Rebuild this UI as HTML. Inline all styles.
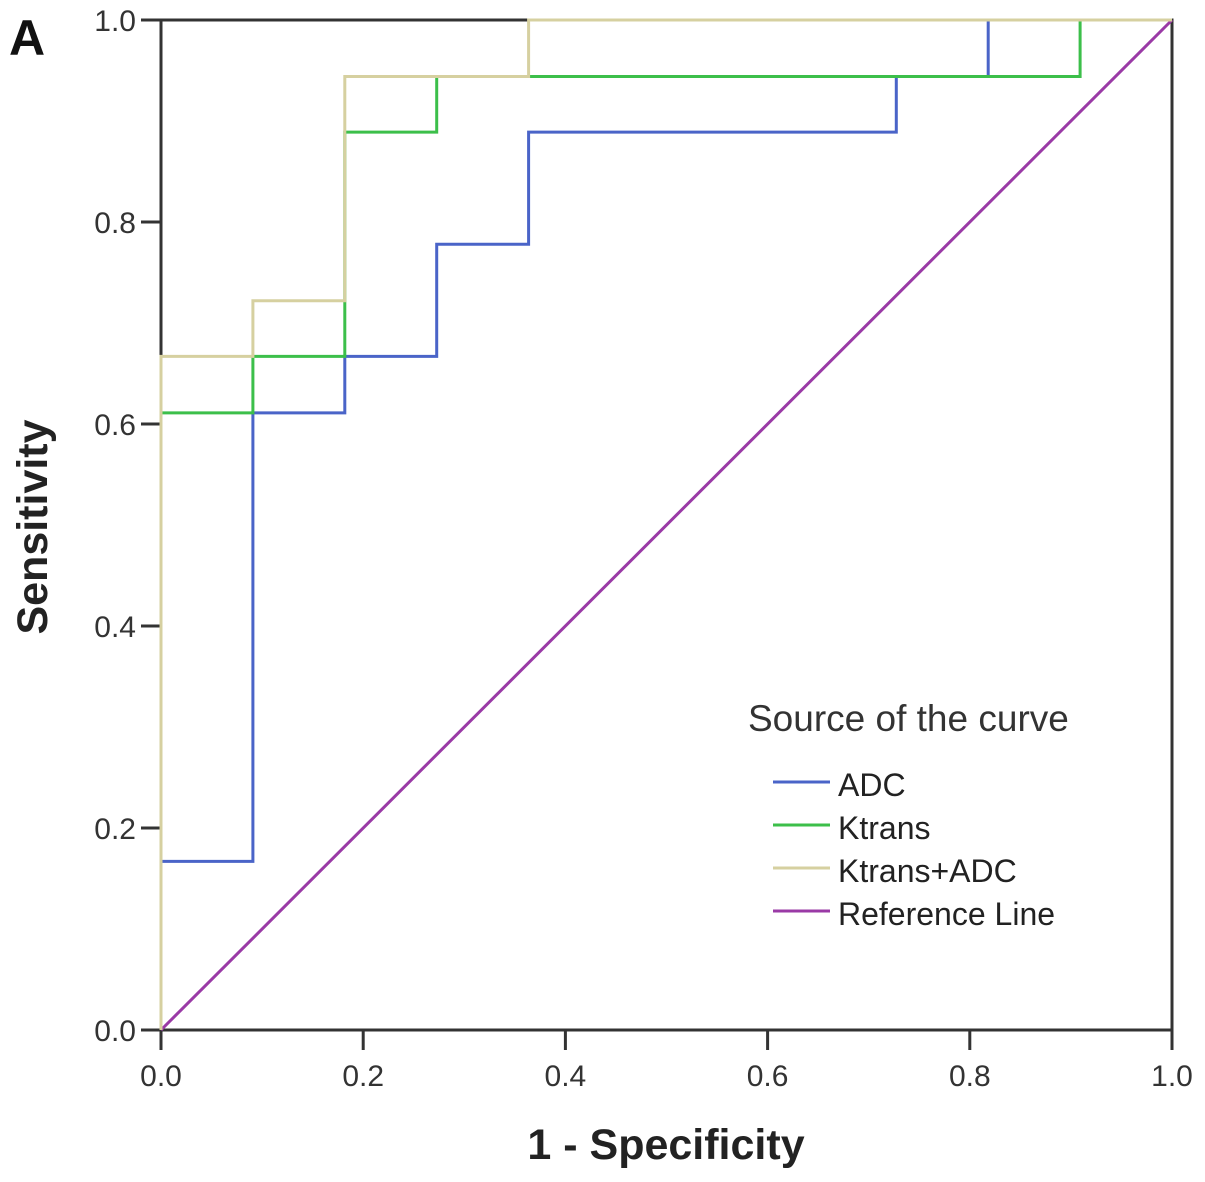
<!DOCTYPE html>
<html><head><meta charset="utf-8"><style>
body{margin:0;background:#fff;}
svg{display:block;font-family:"Liberation Sans",Arial,sans-serif;}
</style></head><body>
<svg id="chart" width="1205" height="1182" viewBox="0 0 1205 1182">
<text x="9" y="55" font-size="50" font-weight="bold" fill="#111">A</text>
<g id="plot"></g>
<text x="666" y="1159" text-anchor="middle" font-size="43" font-weight="bold" fill="#222">1 - Specificity</text>
<text transform="translate(47,527) rotate(-90)" text-anchor="middle" font-size="43" font-weight="bold" fill="#222">Sensitivity</text>
<g>
<text x="748" y="731" font-size="37" fill="#333">Source of the curve</text>
<line x1="773" y1="782" x2="830" y2="782" stroke="#4a64c8" stroke-width="3"/>
<text x="838" y="796" font-size="32" fill="#222">ADC</text>
<line x1="773" y1="825" x2="830" y2="825" stroke="#3cbf4a" stroke-width="3"/>
<text x="838" y="839" font-size="32" fill="#222">Ktrans</text>
<line x1="773" y1="868" x2="830" y2="868" stroke="#d6d0a0" stroke-width="3"/>
<text x="838" y="882" font-size="32" fill="#222">Ktrans+ADC</text>
<line x1="773" y1="911" x2="830" y2="911" stroke="#9a3aa6" stroke-width="3"/>
<text x="838" y="925" font-size="32" fill="#222">Reference Line</text>
</g>
</svg>
<script>
const ticks=[0,0.2,0.4,0.6,0.8,1.0];
const tickLabels=["0.0","0.2","0.4","0.6","0.8","1.0"];
const adcX=[0,0,0.0909,0.0909,0.1818,0.1818,0.2727,0.2727,0.3636,0.3636,0.7273,0.7273,0.8182,0.8182,1];
const adcY=[0,0.167,0.167,0.611,0.611,0.667,0.667,0.778,0.778,0.889,0.889,0.944,0.944,1,1];
const ktX=[0,0,0.0909,0.0909,0.1818,0.1818,0.2727,0.2727,0.9091,0.9091,1];
const ktY=[0,0.611,0.611,0.667,0.667,0.889,0.889,0.944,0.944,1,1];
const comboX=[0,0,0.0909,0.0909,0.1818,0.1818,0.3636,0.3636,1];
const comboY=[0,0.667,0.667,0.722,0.722,0.944,0.944,1,1];
const refX=[0,1];
const refY=[0,1];
const X0=161,X1=1172,Y0=1030,Y1=20;
function sx(v){return X0+(X1-X0)*v;}
function sy(v){return Y0-(Y0-Y1)*v;}
const NS="http://www.w3.org/2000/svg";
const plot=document.getElementById('plot');
function mk(tag,attrs){const e=document.createElementNS(NS,tag);for(const k in attrs)e.setAttribute(k,attrs[k]);plot.appendChild(e);return e;}
const frame=mk('rect',{x:X0,y:Y1,width:X1-X0,height:Y0-Y1,fill:'none',stroke:'#333',"stroke-width":3});


ticks.forEach((t,i)=>{
 const a=mk('line',{x1:sx(t),y1:Y0,x2:sx(t),y2:Y0+20,stroke:'#333',"stroke-width":3});
 
 
 const b=mk('text',{x:sx(t),y:Y0+56,"text-anchor":'middle',"font-size":30,fill:'#333'});
 b.textContent=tickLabels[i];
 
 
 const c=mk('line',{x1:X0-20,y1:sy(t),x2:X0,y2:sy(t),stroke:'#333',"stroke-width":3});
 
 
 const d=mk('text',{x:X0-25,y:sy(t)+11,"text-anchor":'end',"font-size":30,fill:'#333'});
 d.textContent=tickLabels[i];
 
 
});
function line(xs,ys,color,name){
 const pts=xs.map((x,i)=>sx(x)+','+sy(ys[i])).join(' ');
 const p=mk('polyline',{points:pts,fill:'none',stroke:color,"stroke-width":3});
 
 
}
line(refX,refY,'#9a3aa6','reference-line');
line(adcX,adcY,'#4a64c8','adc-curve');
line(ktX,ktY,'#3cbf4a','ktrans-curve');
line(comboX,comboY,'#d6d0a0','ktrans-adc-curve');
</script>
</body></html>
